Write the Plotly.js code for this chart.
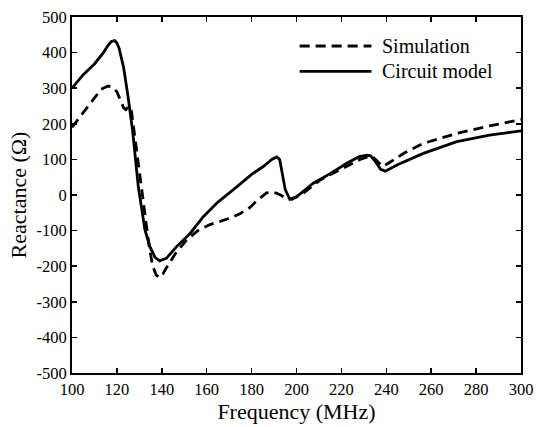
<!DOCTYPE html>
<html>
<head>
<meta charset="utf-8">
<script src="https://cdn.plot.ly/plotly-3.0.1.min.js"></script>
<style>html,body{margin:0;padding:0;background:#fff}#plot{width:536px;height:427px}</style>
</head>
<body>
<div id="plot"></div>
<script>
const simFreq = [100, 103, 106, 110, 113, 116, 118, 120, 121.5, 123, 124, 125.5, 126.5, 128, 130, 132.5, 134.5, 136, 137.5, 139, 140.5, 142, 146, 151, 156, 161.5, 166, 170.4, 175, 179.3, 183, 186.7, 189, 191.2, 193.5, 195.6, 198, 203, 210.5, 216, 222.4, 228.3, 232, 234, 236, 238.5, 241.6, 248, 256.5, 271.4, 286, 300];
const simReact = [190, 215, 240, 275, 297, 306, 303, 290, 265, 245, 240, 250, 235, 160, 60, -60, -150, -200, -225, -232, -222, -205, -165, -127, -100, -83, -73, -65, -52, -35, -12, 6, 8, 5, -2, -10, -12, 5, 42, 60, 80, 100, 108, 107, 95, 80, 92, 118, 145, 173, 194, 212];

const cirFreq = [100, 105, 110, 114, 116, 117.5, 119, 120, 121, 123, 125, 127, 129.5, 132.5, 134.7, 137, 139, 142, 146.6, 152.6, 158.5, 165, 173.4, 180, 185.2, 189, 191.2, 192.5, 195, 197, 200, 207.5, 215, 222.4, 228, 231.5, 233, 235, 237.5, 239.5, 245, 256.5, 271.4, 286, 300];
const cirReact = [300, 338, 368, 400, 420, 431, 434, 427, 412, 358, 275, 180, 25, -98, -145, -175, -185, -178, -145, -108, -61, -20, 23, 58, 80, 100, 107, 100, 15, -12, -5, 33, 60, 89, 108, 112, 110, 95, 72, 67, 85, 117, 150, 168, 180];

const xTicks = [100, 120, 140, 160, 180, 200, 220, 240, 260, 280, 300];
const yTicks = [-500, -400, -300, -200, -100, 0, 100, 200, 300, 400, 500];
const yTickText = ['-500', '-400', '-300', '-200', '-100', '0', '100', '200', '300', '400', '500'];
const seriesNames = ['Simulation', 'Circuit model'];

const font = "'Liberation Serif', 'Times New Roman', serif";
const simDash = '10px,6px';

const traces = [
  {x: simFreq, y: simReact, name: seriesNames[0], mode: 'lines', type: 'scatter',
   line: {color: '#000', width: 2.8, dash: simDash}},
  {x: cirFreq, y: cirReact, name: seriesNames[1], mode: 'lines', type: 'scatter',
   line: {color: '#000', width: 2.8}}
];

const axisCommon = {
  showline: true, linecolor: '#000', linewidth: 2, mirror: 'ticks',
  ticks: 'inside', ticklen: 5, tickwidth: 1.5, tickcolor: '#000',
  showgrid: false, zeroline: false, automargin: false,
  tickfont: {family: font, size: 16.5, color: '#000'}
};

// legend drawn as line samples + labels in paper coordinates
const legRows = [0.9185, 0.8475];
const shapes = legRows.map((yy, i) => ({
  type: 'line', xref: 'paper', yref: 'paper', x0: 0.507, x1: 0.667, y0: yy, y1: yy,
  line: {color: '#000', width: 2.8, dash: i === 0 ? simDash : 'solid'}
}));
const annotations = legRows.map((yy, i) => ({
  xref: 'paper', yref: 'paper', x: 0.686, y: yy, xanchor: 'left', yanchor: 'middle',
  text: seriesNames[i], showarrow: false, font: {family: font, size: 20, color: '#000'}
}));

const layout = {
  width: 536, height: 427,
  margin: {l: 72, r: 15, t: 17, b: 54},
  paper_bgcolor: '#fff', plot_bgcolor: '#fff',
  font: {family: font, color: '#000'},
  showlegend: false,
  shapes: shapes,
  annotations: annotations,
  xaxis: Object.assign({}, axisCommon, {
    range: [100, 300], tickvals: xTicks,
    title: {text: 'Frequency (MHz)', font: {family: font, size: 22, color: '#000'}, standoff: 2}
  }),
  yaxis: Object.assign({}, axisCommon, {
    range: [-500, 500], tickvals: yTicks, ticktext: yTickText,
    title: {text: 'Reactance (Ω)', font: {family: font, size: 22, color: '#000'}, standoff: 4}
  })
};

Plotly.newPlot('plot', traces, layout, {displayModeBar: false, staticPlot: true});
</script>
</body>
</html>
